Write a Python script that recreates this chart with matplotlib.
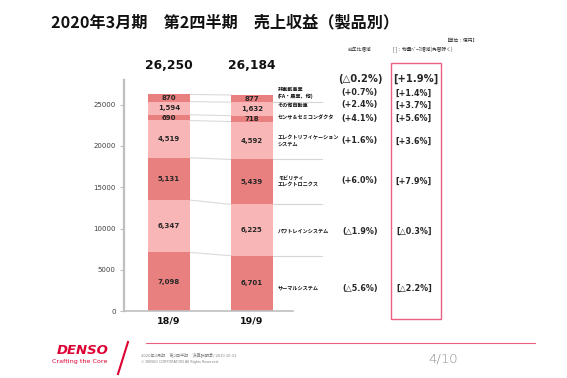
import matplotlib
matplotlib.use("Agg")
import matplotlib.pyplot as plt
from matplotlib.patches import Rectangle
from matplotlib.lines import Line2D

plt.rcParams['font.family'] = ['DejaVu Sans', 'Noto Sans CJK JP']

# ---- data ----
periods = ['18/9', '19/9']
categories = ['サーマルシステム', 'パワトレインシステム', 'モビリティ\nエレクトロニクス',
              'エレクトリフィケーション\nシステム', 'センサ＆セミコンダクタ', 'その他自動車',
              '非車載事業\n(FA・農業、他)']
sales_18 = [7098, 6347, 5131, 4519, 690, 1594, 870]
sales_19 = [6701, 6225, 5439, 4592, 718, 1632, 877]
totals = ['26,250', '26,184']
yoy = ['(△5.6%)', '(△1.9%)', '(+6.0%)', '(+1.6%)', '(+4.1%)', '(+2.4%)', '(+0.7%)']
volume = ['[△2.2%]', '[△0.3%]', '[+7.9%]', '[+3.6%]', '[+5.6%]', '[+3.7%]', '[+1.4%]']
total_yoy = '(△0.2%)'
total_volume = '[+1.9%]'
yticks = [0, 5000, 10000, 15000, 20000, 25000]

DARK = '#E88080'
LIGHT = '#F9B6B6'
colors = [DARK, LIGHT, DARK, LIGHT, DARK, LIGHT, DARK]

W, H = 567, 378
fig = plt.figure(figsize=(W / 100, H / 100), dpi=100)


def fx(x):
    return x / W


def fy(y):
    return 1 - y / H


# axes: left 124, right 293, top 80, bottom 311
ax = fig.add_axes([fx(124), fy(311), fx(293) - fx(124), (311 - 80) / H])
ax.set_xlim(-0.542, 1.494)
ax.set_ylim(0, 28000)

bw = 0.506
series = [sales_18, sales_19]
cum = []
for i, vals in enumerate(series):
    bottom = 0
    c = [0]
    for j, v in enumerate(vals):
        ax.bar(i, v, bottom=bottom, width=bw, color=colors[j], edgecolor='none', zorder=2)
        ax.text(i, bottom + v / 2, f'{v:,}', ha='center', va='center', fontsize=5,
                fontweight='bold', color='#262626', zorder=3)
        bottom += v
        c.append(bottom)
    cum.append(c)
    ax.text(i, 29800, totals[i], ha='center', va='center', fontsize=8.8,
            fontweight='bold', color='#111111', clip_on=False)

# connector lines between bars
for k in range(1, len(categories) + 1):
    ax.plot([0 + bw / 2, 1 - bw / 2], [cum[0][k], cum[1][k]], color='#DADADA', lw=0.8, zorder=1)
# extension lines from second bar
for k in [1, 2, 3, 6]:
    ax.plot([1 + bw / 2, 1.843], [cum[1][k], cum[1][k]], color='#D5D5D5', lw=0.8,
            zorder=1, clip_on=False)

ax.set_yticks(yticks)
ax.set_yticklabels([str(t) for t in yticks], fontsize=5, color='#404040')
ax.set_xticks([0, 1])
ax.set_xticklabels(periods, fontsize=6.8, fontweight='bold', color='#111111')
ax.tick_params(axis='x', length=0, pad=4)
ax.tick_params(axis='y', length=3, width=0.8, color='#BFBFBF', pad=3)
for s in ['top', 'right']:
    ax.spines[s].set_visible(False)
ax.spines['left'].set_color('#BFBFBF')
ax.spines['left'].set_linewidth(1.6)
ax.spines['bottom'].set_color('#BFBFBF')
ax.spines['bottom'].set_linewidth(1.2)
ax.set_facecolor('none')

# right side labels
row_y = [288, 231, 181, 141, 118, 105, 93]
jp = ['Noto Sans CJK JP', 'DejaVu Sans']
for j, cat in enumerate(categories):
    fig.text(fx(278), fy(row_y[j]), cat, ha='left', va='center', fontsize=3.7,
             fontweight='bold', family=jp, color='#111111', linespacing=1.25)
    fig.text(fx(360), fy(row_y[j]), yoy[j], ha='center', va='center', fontsize=5.8,
             fontweight='bold', color='#262626')
    fig.text(fx(414), fy(row_y[j]), volume[j], ha='center', va='center', fontsize=5.8,
             fontweight='bold', color='#262626')
fig.text(fx(360), fy(79), total_yoy, ha='center', va='center', fontsize=7.2,
         fontweight='bold', color='#262626')
fig.text(fx(416), fy(79), total_volume, ha='center', va='center', fontsize=7.2,
         fontweight='bold', color='#262626')

# pink box
fig.patches.append(Rectangle((fx(391), fy(319)), fx(441) - fx(391), (319 - 63) / H,
                             transform=fig.transFigure, fill=False, edgecolor='#EC5F80',
                             lw=1.0))

# title & notes
fig.text(fx(51), fy(22), '2020年3月期　第2四半期　売上収益（製品別）', ha='left', va='center',
         fontsize=11.6, fontweight='bold', family=jp, color='#111111')
fig.text(fx(478), fy(40), '【単位：億円】', ha='right', va='center', fontsize=3.4,
         family=jp, color='#333333')
fig.text(fx(360), fy(50), '前年比増減', ha='center', va='center', fontsize=3.4,
         family=jp, color='#333333')
fig.text(fx(393), fy(50), '[ ]：物量ﾍﾞｰｽ増減(為替除く)', ha='left', va='center', fontsize=3.4,
         family=jp, color='#333333')

# footer
fig.add_artist(Line2D([fx(146), fx(535)], [fy(343), fy(343)], color='#EC5F80', lw=0.8))
fig.add_artist(Line2D([fx(128), fx(118)], [fy(342), fy(374)], color='#DC0032', lw=1.5))
fig.text(fx(83), fy(350), 'DENSO', ha='center', va='center', fontsize=9.5, fontweight='bold',
         fontstyle='italic', color='#DC0032')
fig.text(fx(80), fy(362), 'Crafting the Core', ha='center', va='center', fontsize=4.6,
         color='#DC0032')
fig.text(fx(141), fy(355), '2020年3月期　第2四半期　決算説明会/ 2019.10.31', ha='left',
         va='center', fontsize=3.0, family=jp, color='#808080')
fig.text(fx(141), fy(362), '© DENSO CORPORATION All Rights Reserved.', ha='left',
         va='center', fontsize=2.4, color='#808080')
fig.text(fx(458), fy(358), '4/10', ha='right', va='center', fontsize=9.5, color='#8C8C8C',
         fontweight='light')

fig.savefig('out.png', dpi=100)
